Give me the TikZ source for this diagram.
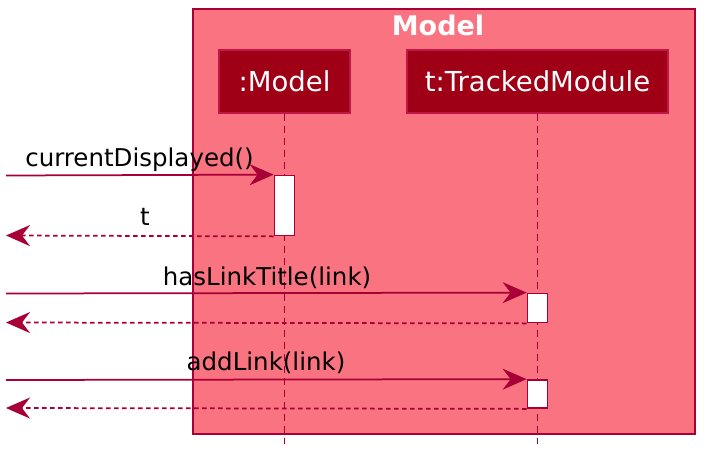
\documentclass[tikz,border=0pt]{standalone}
\usepackage{fontspec}
\setmainfont{DejaVu Sans}
\usetikzlibrary{arrows.meta}
\definecolor{linec}{HTML}{A80036}
\definecolor{grpfill}{HTML}{F97380}
\definecolor{partfill}{HTML}{A00016}
\definecolor{partdraw}{HTML}{C0164A}
\begin{document}
\begin{tikzpicture}[x=1pt,y=-1pt,
  grp/.style={draw=linec, fill=grpfill, line width=1.75pt, anchor=north west, inner sep=0pt, minimum width=502pt, minimum height=425pt},
  part/.style={draw=partdraw, fill=partfill, line width=1.75pt, text=white, inner sep=0pt, minimum height=63pt, font=\fontsize{27.5}{27.5}\selectfont},
  act/.style={draw=linec, fill=white, line width=1.75pt, inner sep=0pt, minimum width=20pt},
  lifeline/.style={draw=linec, line width=1.75pt, dash pattern=on 7pt off 5pt},
  tip/.style={-{Stealth[length=24pt, width=21pt, inset=8pt]}},
  msg/.style={draw=linec, line width=1.75pt, tip},
  ret/.style={draw=linec, line width=1.75pt, dash pattern=on 4.5pt off 3.5pt, tip},
  lbl/.style={anchor=base, inner sep=0pt, font=\fontsize{24.5}{24.5}\selectfont}
]
\useasboundingbox (0,0) rectangle (714,466);
\node[grp] (g) at (192,8) {};
\node[anchor=base, inner sep=0pt, text=white, font=\bfseries\fontsize{27}{27}\selectfont] (title) at (438,35) {Model};
\node[part, minimum width=131pt] (m) at (284.5,81.5) {:Model};
\node[part, minimum width=261pt] (tm) at (537.5,81.5) {t:TrackedModule};
\coordinate (mend) at (284.5,444);
\coordinate (tmend) at (537.5,444);
\draw[lifeline] (m.south) -- (mend);
\draw[lifeline] (tm.south) -- (tmend);
\node[act, minimum height=60pt] (a1) at (284.5,205.5) {};
\node[act, minimum height=29pt] (a2) at (537.5,308) {};
\node[act, minimum height=28pt] (a3) at (537.5,394) {};
\coordinate (s1) at (6,175.5);
\coordinate (r1) at (6,235.5);
\coordinate (s2) at (6,293.5);
\coordinate (r2) at (6,322.5);
\coordinate (s3) at (6,380);
\coordinate (r3) at (6,408);
\draw[msg] (s1) -- (a1.north west);
\draw[ret] (a1.south west) -- (r1);
\draw[msg] (s2) -- (a2.north west);
\draw[ret] (a2.south west) -- (r2);
\draw[msg] (s3) -- (a3.north west);
\draw[ret] (a3.south west) -- (r3);
\node[lbl] (l1) at (139.5,166) {currentDisplayed()};
\node[lbl] (l2) at (145,225) {t};
\node[lbl] (l3) at (267,285) {hasLinkTitle(link)};
\node[lbl] (l4) at (266,370) {addLink(link)};
\end{tikzpicture}
\end{document}
